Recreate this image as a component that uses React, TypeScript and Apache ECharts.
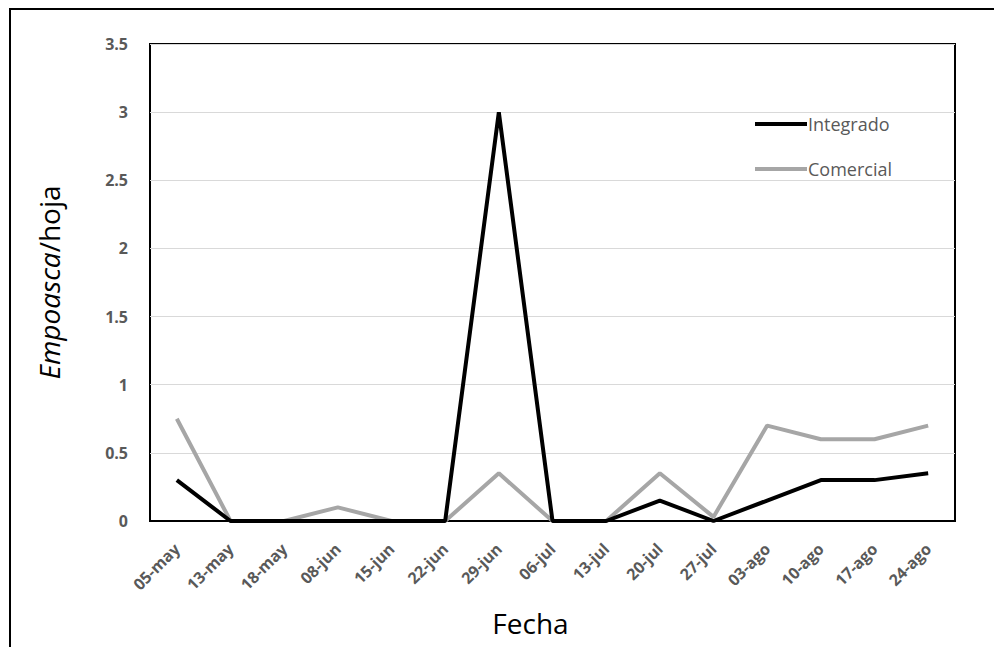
import React, { useEffect, useRef } from "react";
import * as echarts from "echarts";

const categories = ["05-may", "13-may", "18-may", "08-jun", "15-jun", "22-jun", "29-jun", "06-jul", "13-jul", "20-jul", "27-jul", "03-ago", "10-ago", "17-ago", "24-ago"];
const integrado = [0.3, 0, 0, 0, 0, 0, 3, 0, 0, 0.15, 0, 0.15, 0.3, 0.3, 0.35];
const comercial = [0.75, 0, 0, 0.1, 0, 0, 0.35, 0, 0, 0.35, 0.03, 0.7, 0.6, 0.6, 0.7];

const FONT = "'Open Sans', sans-serif";

export default function App() {
  const ref = useRef<HTMLDivElement>(null);
  useEffect(() => {
    if (!ref.current) return;
    const chart = echarts.init(ref.current, null, { renderer: "svg" });
    chart.setOption({
      animation: false,
      backgroundColor: "#fff",
      graphic: [
        {
          type: "rect",
          shape: { x: 10, y: 9, width: 1200, height: 900 },
          style: { fill: "none", stroke: "#000", lineWidth: 2 },
          silent: true,
        },
      ],
      grid: {
        left: 150,
        top: 44,
        right: 39,
        bottom: 126,
        show: true,
        borderColor: "#000",
        borderWidth: 2,
        backgroundColor: "transparent",
      },
      legend: {
        orient: "vertical",
        left: 750,
        top: 110,
        itemGap: 27,
        itemWidth: 52,
        itemHeight: 4,
        icon: "rect",
        textStyle: { color: "#595959", fontSize: 18, fontFamily: FONT, padding: [0, 0, 0, -4] },
        data: ["Integrado", "Comercial"],
      },
      xAxis: {
        type: "category",
        data: categories,
        boundaryGap: true,
        axisLine: { show: true, lineStyle: { color: "#000", width: 2 } },
        axisTick: { show: false },
        axisLabel: {
          rotate: 45,
          color: "#595959",
          fontSize: 16,
          fontWeight: "bold",
          fontFamily: FONT,
          margin: 25,
          interval: 0,
        },
        name: "Fecha",
        nameLocation: "middle",
        nameGap: 88,
        nameTextStyle: { color: "#000", fontSize: 28, fontFamily: FONT, padding: [0, 44, 0, 0] },
      },
      yAxis: {
        type: "value",
        min: 0,
        max: 3.5,
        interval: 0.5,
        axisLine: { show: false },
        axisTick: { show: false },
        splitLine: { show: true, lineStyle: { color: "#d9d9d9", width: 1 } },
        axisLabel: {
          color: "#595959",
          fontSize: 16,
          fontWeight: "bold",
          fontFamily: FONT,
          margin: 22,
        },
        name: "{i|Empoasca}{n|/hoja}",
        nameLocation: "middle",
        nameGap: 87,
        nameRotate: 90,
        nameTextStyle: {
          rich: {
            i: { fontStyle: "italic", fontSize: 28, color: "#000", fontFamily: FONT },
            n: { fontSize: 28, color: "#000", fontFamily: FONT },
          },
        },
      },
      series: [
        {
          name: "Integrado",
          type: "line",
          data: integrado,
          showSymbol: false,
          symbol: "none",
          lineStyle: { color: "#000", width: 4 },
          itemStyle: { color: "#000" },
          z: 3,
        },
        {
          name: "Comercial",
          type: "line",
          data: comercial,
          showSymbol: false,
          symbol: "none",
          lineStyle: { color: "#a6a6a6", width: 4 },
          itemStyle: { color: "#a6a6a6" },
          z: 2,
        },
      ],
    });
    return () => chart.dispose();
  }, []);
  return (
    <div
      ref={ref}
      style={{ position: "fixed", left: 0, top: 0, width: 994, height: 647 }}
    />
  );
}
